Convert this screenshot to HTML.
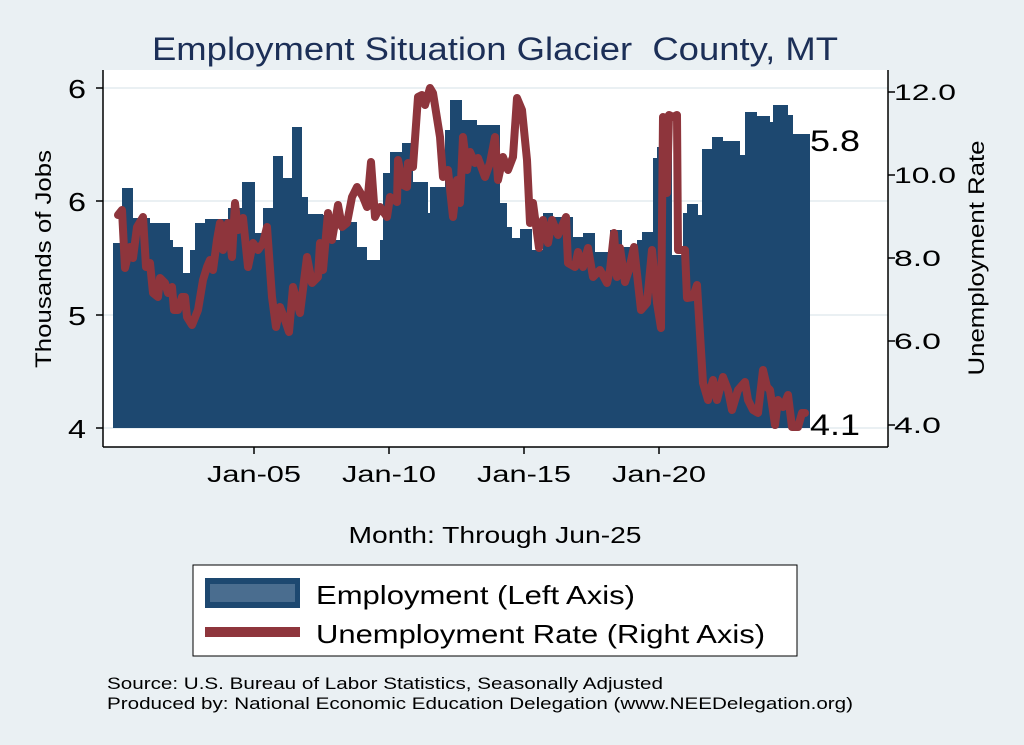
<!DOCTYPE html>
<html><head><meta charset="utf-8"><style>
html,body{margin:0;padding:0;background:#eaf0f3;}
svg{display:block;font-family:"Liberation Sans",sans-serif;}
</style></head><body>
<svg width="1024" height="745" viewBox="0 0 1024 745" xmlns="http://www.w3.org/2000/svg">
<rect x="0" y="0" width="1024" height="745" fill="#eaf0f3"/>
<text x="152" y="60" font-size="32" fill="#1c2f57" textLength="686" lengthAdjust="spacingAndGlyphs" style="white-space:pre" xml:space="preserve">Employment Situation Glacier  County, MT</text>
<rect x="103" y="70" width="785" height="377" fill="#ffffff"/>
<g stroke="#eaf0f3" stroke-width="2">
<line x1="103" y1="88" x2="888" y2="88"/>
<line x1="103" y1="201" x2="888" y2="201"/>
<line x1="103" y1="315" x2="888" y2="315"/>
<line x1="103" y1="428" x2="888" y2="428"/>
</g>
<path fill="#1d4870" d="M113,428 V243 H122 V188 H133 V218 H150 V223 H170 V240 H173 V247 H183 V273 H190 V250 H195 V223 H205 V219 H228 V208 H242 V182 H255 V233 H263 V208 H273 V156 H283 V178 H292 V127 H302 V197 H308 V214 H323 V215 H333 V240 H340 V222 H357 V247 H367 V260 H380 V240 H383 V173 H390 V152 H402 V143 H413 V182 H428 V213 H430 V187 H445 V130 H450 V100 H462 V120 H477 V125 H500 V203 H507 V227 H512 V238 H520 V229 H532 V250 H543 V213 H553 V217 H573 V237 H583 V233 H595 V252 H610 V230 H622 V247 H637 V240 H642 V232 H653 V158 H657 V147 H672 V255 H683 V213 H687 V204 H698 V215 H702 V149 H712 V137 H723 V141 H740 V155 H745 V112 H757 V116 H770 V122 H773 V105 H788 V115 H793 V134 H810 V428 Z"/>
<polyline fill="none" stroke="#8e353c" stroke-width="8" stroke-linejoin="round" stroke-linecap="round" points="118,215 122,210 125,268 130,247 133,258 137,227 143,217 146,267 150,263 153,293 158,297 160,278 165,283 168,293 172,287 174,310 178,310 182,297 185,297 187,317 192,325 198,310 203,280 207,267 210,260 213,270 217,240 220,223 223,250 228,223 232,257 235,203 238,230 243,218 248,267 253,243 258,250 263,243 267,227 272,297 276,327 280,307 285,320 289,332 293,287 300,313 307,257 312,283 318,277 320,243 323,270 328,213 332,240 338,205 342,227 347,223 352,197 357,187 363,197 367,207 371,162 375,217 380,207 387,217 390,197 397,202 398,160 403,185 407,187 408,163 413,167 418,97 422,95 425,105 430,88 433,93 440,137 443,177 448,170 453,217 457,180 460,203 463,137 467,170 470,152 475,163 478,158 485,177 490,163 495,137 498,180 503,157 508,170 513,157 517,98 522,110 527,160 530,223 533,203 539,248 543,220 548,243 552,220 558,235 566,217 568,263 575,267 578,252 583,267 588,248 593,277 600,270 607,283 610,270 614,233 617,277 620,248 625,282 629,270 634,247 641,310 647,303 652,250 657,303 661,328 663,117 667,193 669,115 673,117 677,115 678,250 685,250 687,298 693,297 697,285 703,383 708,400 713,380 717,400 723,377 728,390 732,410 738,390 745,382 748,400 753,410 758,413 763,370 767,387 770,390 775,425 778,400 783,407 788,395 792,427 798,427 802,413 805,413"/>
<g stroke="#000" stroke-width="1.5" fill="none">
<line x1="103" y1="70" x2="103" y2="447"/>
<line x1="103" y1="447" x2="888" y2="447"/>
<line x1="888" y1="70" x2="888" y2="447"/>
<line x1="96" y1="88" x2="103" y2="88"/><line x1="96" y1="201" x2="103" y2="201"/>
<line x1="96" y1="315" x2="103" y2="315"/><line x1="96" y1="428" x2="103" y2="428"/>
<line x1="888" y1="92" x2="895" y2="92"/><line x1="888" y1="175" x2="895" y2="175"/>
<line x1="888" y1="258" x2="895" y2="258"/><line x1="888" y1="341" x2="895" y2="341"/>
<line x1="888" y1="425" x2="895" y2="425"/>
<line x1="254" y1="447" x2="254" y2="454"/><line x1="389" y1="447" x2="389" y2="454"/>
<line x1="524" y1="447" x2="524" y2="454"/><line x1="659" y1="447" x2="659" y2="454"/>
</g>
<g font-size="26" fill="#000">
<text x="68" y="98" textLength="18" lengthAdjust="spacingAndGlyphs">6</text>
<text x="68" y="211" textLength="18" lengthAdjust="spacingAndGlyphs">6</text>
<text x="68" y="325" textLength="18" lengthAdjust="spacingAndGlyphs">5</text>
<text x="68" y="438" textLength="18" lengthAdjust="spacingAndGlyphs">4</text>
</g>
<g font-size="22" fill="#000">
<text x="894" y="100" textLength="62" lengthAdjust="spacingAndGlyphs">12.0</text>
<text x="894" y="183" textLength="62" lengthAdjust="spacingAndGlyphs">10.0</text>
<text x="894" y="266" textLength="47" lengthAdjust="spacingAndGlyphs">8.0</text>
<text x="894" y="349" textLength="47" lengthAdjust="spacingAndGlyphs">6.0</text>
<text x="894" y="433" textLength="47" lengthAdjust="spacingAndGlyphs">4.0</text>
</g>
<g font-size="30" fill="#000">
<text x="810" y="151" textLength="50" lengthAdjust="spacingAndGlyphs">5.8</text>
<text x="810" y="435" textLength="50" lengthAdjust="spacingAndGlyphs">4.1</text>
</g>
<text transform="translate(51,259) rotate(-90)" font-size="22" text-anchor="middle" textLength="218" lengthAdjust="spacingAndGlyphs">Thousands of Jobs</text>
<text transform="translate(984,258) rotate(-90)" font-size="22" text-anchor="middle" textLength="235" lengthAdjust="spacingAndGlyphs">Unemployment Rate</text>
<g font-size="23" text-anchor="middle">
<text x="254" y="482" textLength="94" lengthAdjust="spacingAndGlyphs">Jan-05</text>
<text x="389" y="482" textLength="94" lengthAdjust="spacingAndGlyphs">Jan-10</text>
<text x="524" y="482" textLength="94" lengthAdjust="spacingAndGlyphs">Jan-15</text>
<text x="659" y="482" textLength="94" lengthAdjust="spacingAndGlyphs">Jan-20</text>
<text x="495" y="543" textLength="293" lengthAdjust="spacingAndGlyphs">Month: Through Jun-25</text>
</g>
<rect x="193" y="565" width="604" height="91" fill="#fff" stroke="#000" stroke-width="1"/>
<rect x="205" y="578" width="95" height="30" fill="#1d4870"/>
<rect x="210" y="584" width="85" height="18" fill="#4a6d8f"/>
<line x1="205" y1="632" x2="300" y2="632" stroke="#8e353c" stroke-width="10"/>
<g font-size="26">
<text x="316" y="604" textLength="319" lengthAdjust="spacingAndGlyphs">Employment (Left Axis)</text>
<text x="316" y="643" textLength="449" lengthAdjust="spacingAndGlyphs">Unemployment Rate (Right Axis)</text>
</g>
<g font-size="17">
<text x="107" y="689" textLength="556" lengthAdjust="spacingAndGlyphs">Source: U.S. Bureau of Labor Statistics, Seasonally Adjusted</text>
<text x="107" y="709" textLength="746" lengthAdjust="spacingAndGlyphs">Produced by: National Economic Education Delegation (www.NEEDelegation.org)</text>
</g>
</svg>
</body></html>
